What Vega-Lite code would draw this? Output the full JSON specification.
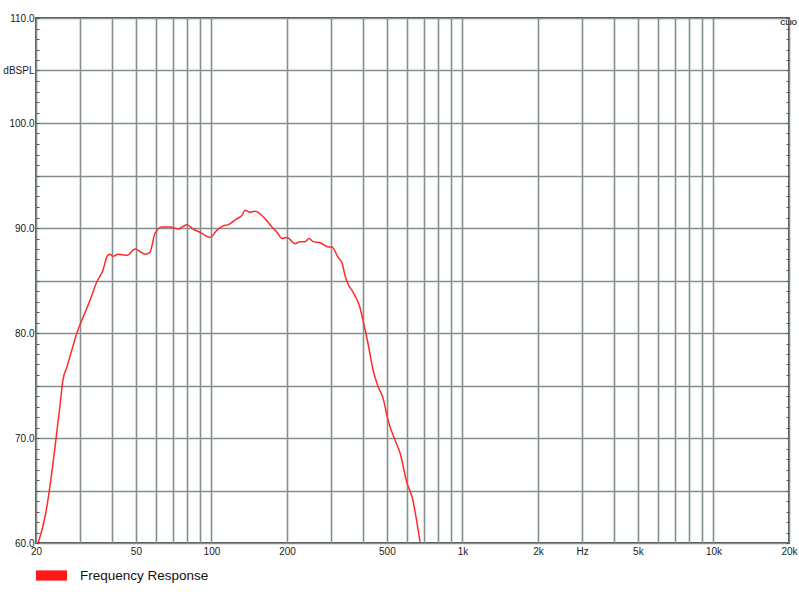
{
  "$schema": "https://vega.github.io/schema/vega-lite/v6.json",
  "width": 753,
  "height": 525,
  "autosize": {"type": "none"},
  "padding": {"left": 36, "top": 18, "right": 10, "bottom": 57},
  "background": "#ffffff",
  "title": {"text": "CLIO", "anchor": "end", "fontSize": 7, "fontWeight": "bold", "font": "Liberation Sans", "color": "#333333", "offset": -13},
  "config": {
    "view": {"stroke": "#4d5555", "strokeWidth": 2},
    "font": "Liberation Sans",
    "axis": {"labelFont": "Liberation Sans", "labelColor": "#1a1a1a", "labelFontSize": 10}
  },
  "data": {
    "values": [
      {"f": 20.4, "db": 60.0}, {"f": 21.9, "db": 62.9}, {"f": 22.7, "db": 65.3}, {"f": 23.8, "db": 69.1},
      {"f": 24.9, "db": 73.0}, {"f": 25.6, "db": 75.5}, {"f": 26.6, "db": 76.8}, {"f": 27.8, "db": 78.4},
      {"f": 29.1, "db": 80.0}, {"f": 30.8, "db": 81.5}, {"f": 32.8, "db": 83.1}, {"f": 35.0, "db": 84.9},
      {"f": 37.0, "db": 86.0}, {"f": 38.4, "db": 87.3}, {"f": 39.4, "db": 87.5}, {"f": 40.5, "db": 87.3},
      {"f": 42.4, "db": 87.5}, {"f": 46.1, "db": 87.4}, {"f": 49.6, "db": 88.0}, {"f": 54.4, "db": 87.5},
      {"f": 56.9, "db": 87.7}, {"f": 59.6, "db": 89.5}, {"f": 63.5, "db": 90.1}, {"f": 68.4, "db": 90.1},
      {"f": 73.6, "db": 89.9}, {"f": 79.9, "db": 90.3}, {"f": 84.5, "db": 89.9}, {"f": 90.0, "db": 89.6},
      {"f": 98.7, "db": 89.1}, {"f": 105.2, "db": 89.8}, {"f": 111.2, "db": 90.2}, {"f": 116.4, "db": 90.3},
      {"f": 126.4, "db": 90.9}, {"f": 132.4, "db": 91.2}, {"f": 136.1, "db": 91.7}, {"f": 142.4, "db": 91.5},
      {"f": 149.1, "db": 91.6}, {"f": 160.5, "db": 91.1}, {"f": 174.3, "db": 90.1}, {"f": 182.5, "db": 89.6},
      {"f": 191.0, "db": 89.0}, {"f": 200.0, "db": 89.1}, {"f": 215.3, "db": 88.5}, {"f": 225.4, "db": 88.7},
      {"f": 236.0, "db": 88.7}, {"f": 244.8, "db": 89.0}, {"f": 254.1, "db": 88.7}, {"f": 270.9, "db": 88.6},
      {"f": 291.5, "db": 88.2}, {"f": 302.2, "db": 88.2}, {"f": 319.4, "db": 87.2}, {"f": 331.2, "db": 86.7},
      {"f": 340.4, "db": 85.5}, {"f": 346.7, "db": 84.9}, {"f": 366.4, "db": 83.9}, {"f": 390.9, "db": 82.4},
      {"f": 401.7, "db": 81.2}, {"f": 420.5, "db": 79.0}, {"f": 440.3, "db": 76.5}, {"f": 461.0, "db": 74.9},
      {"f": 482.7, "db": 73.8}, {"f": 505.3, "db": 71.7}, {"f": 538.5, "db": 69.8}, {"f": 563.9, "db": 68.6},
      {"f": 601.4, "db": 65.7}, {"f": 629.7, "db": 64.4}, {"f": 677.7, "db": 60.1}
    ]
  },
  "transform": [{"calculate": "'Frequency Response'", "as": "series"}],
  "layer": [
    {
      "mark": {"type": "line", "strokeWidth": 1.5, "clip": true, "interpolate": "monotone"},
      "encoding": {
        "x": {
          "field": "f", "type": "quantitative",
          "scale": {"type": "log", "domain": [20, 20000], "nice": false},
          "axis": {
            "title": null, "domain": false, "ticks": false,
            "values": [20, 30, 40, 50, 60, 70, 80, 90, 100, 200, 300, 400, 500, 600, 700, 800, 900, 1000, 2000, 3000, 4000, 5000, 6000, 7000, 8000, 9000, 10000, 20000],
            "grid": true, "gridColor": "#849090", "gridWidth": 1.6,
            "labelFlush": false, "labelOverlap": false, "labelPadding": 3,
            "labelExpr": "datum.value == 20 ? '20' : datum.value == 50 ? '50' : datum.value == 100 ? '100' : datum.value == 200 ? '200' : datum.value == 500 ? '500' : datum.value == 1000 ? '1k' : datum.value == 2000 ? '2k' : datum.value == 3000 ? 'Hz' : datum.value == 5000 ? '5k' : datum.value == 10000 ? '10k' : datum.value == 20000 ? '20k' : ''"
          }
        },
        "y": {
          "field": "db", "type": "quantitative",
          "scale": {"domain": [60, 110], "nice": false, "zero": false},
          "axis": {
            "title": null, "domain": false,
            "values": [60,61,62,63,64,65,66,67,68,69,70,71,72,73,74,75,76,77,78,79,80,81,82,83,84,85,86,87,88,89,90,91,92,93,94,95,96,97,98,99,100,101,102,103,104,105,106,107,108,109,110],
            "grid": true, "gridColor": "#849090", "gridWidth": 1.6,
            "gridOpacity": {"condition": {"test": "datum.value % 5 === 0", "value": 1}, "value": 0},
            "tickSize": -3, "tickColor": "#555", "labelPadding": 5,
            "labelFlush": false, "labelOverlap": false,
            "labelExpr": "datum.value % 10 === 0 ? format(datum.value, '.1f') : (datum.value === 105 ? 'dBSPL' : '')"
          }
        },
        "color": {
          "field": "series", "type": "nominal",
          "scale": {"range": ["#ff2a2a"]},
          "legend": {
            "title": null, "orient": "none", "legendX": 0, "legendY": 542,
            "symbolType": "M-1,-0.33H1V0.33H-1Z", "symbolSize": 961,
            "symbolStrokeWidth": 0, "symbolFillColor": "#ff1a1a", "symbolOpacity": 1,
            "labelFontSize": 13.5, "labelFont": "Liberation Sans", "labelColor": "#111", "labelOffset": 13
          }
        }
      }
    },
    {
      "mark": {"type": "line", "opacity": 0},
      "encoding": {
        "x": {"field": "f", "type": "quantitative", "scale": {"type": "log", "domain": [20, 20000], "nice": false}},
        "y": {
          "field": "db", "type": "quantitative",
          "scale": {"domain": [60, 110], "nice": false, "zero": false},
          "axis": {
            "orient": "right", "title": null, "domain": false, "grid": false, "labels": false,
            "values": [60,61,62,63,64,65,66,67,68,69,70,71,72,73,74,75,76,77,78,79,80,81,82,83,84,85,86,87,88,89,90,91,92,93,94,95,96,97,98,99,100,101,102,103,104,105,106,107,108,109,110],
            "tickSize": -3, "tickColor": "#555"
          }
        }
      }
    }
  ],
  "resolve": {"axis": {"y": "independent"}}
}
